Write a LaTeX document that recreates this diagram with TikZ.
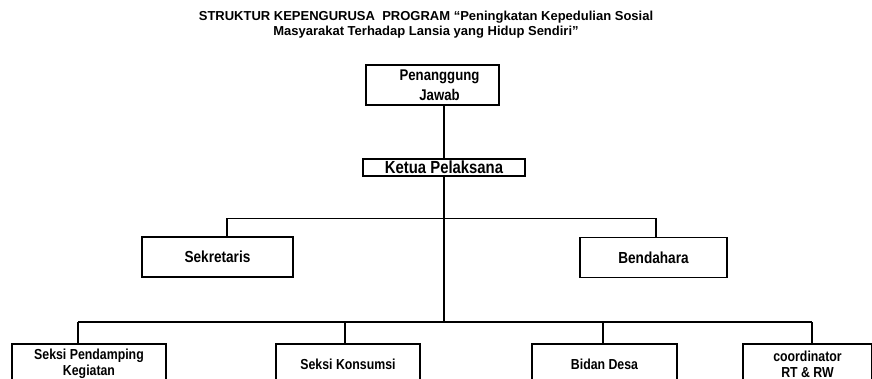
\documentclass[tikz,border=0pt]{standalone}
\usepackage{fontspec}
\setmainfont{Liberation Sans}
\newfontfamily\tebal{Liberation Sans}[FakeStretch=0.85]
\usepackage{tikz}

\tikzset{
  kotak/.style={draw, line width=1.8pt, align=center, inner sep=0pt,
    minimum height=40pt, font=\tebal\bfseries\fontsize{16}{17}\selectfont},
  kecil/.style={font=\tebal\bfseries\fontsize{14.5}{16}\selectfont},
  garis/.style={line width=1.3pt}
}

\begin{document}
\begin{tikzpicture}[x=1pt,y=-1pt]
 \fill[white] (0,0) rectangle (872,378);
 \useasboundingbox (0,0) rectangle (872,378);
 \clip (0,0) rectangle (872,378);

 \node[align=center, font=\bfseries\fontsize{13}{15}\selectfont] (judul) at (426,25)
  {STRUKTUR KEPENGURUSA\ \ PROGRAM ``Peningkatan Kepedulian Sosial\\
   Masyarakat Terhadap Lansia yang Hidup Sendiri''};

 \node[kotak, minimum width=133pt, font=\tebal\bfseries\fontsize{15.5}{20}\selectfont,
  text width=133pt] (pj) at (432.5,85) {\hspace*{14pt}Penanggung\\\hspace*{14pt}Jawab};
 \node[kotak, minimum width=162pt, minimum height=17pt,
  font=\tebal\bfseries\fontsize{17.5}{17}\selectfont] (ketua) at (444,167.5) {Ketua Pelaksana};
 \node[kotak, minimum width=151pt] (sekr) at (217.5,257) {Sekretaris};
 \node[kotak, minimum width=147pt] (bend) at (653.5,257.5) {Bendahara};

 \node[kotak, kecil, minimum width=154pt] (pend) at (89,364) {Seksi Pendamping\\Kegiatan};
 \node[kotak, kecil, minimum width=144pt] (kons) at (348,364) {Seksi Konsumsi};
 \node[kotak, kecil, minimum width=145pt] (bidan) at (604.5,364) {\raisebox{-3pt}{Bidan Desa}};
 \node[kotak, kecil, minimum width=129pt] (koord) at (807.5,364) {coordinator\\RT \& RW};

 \draw[line width=2.5pt] (ketua.north) -- (ketua.north |- pj.south);

 \coordinate (a1) at (227,218);
 \coordinate (a2) at (656,218);
 \coordinate (bawah) at (444,322);
 \draw[line width=0.8pt] (a1) -- (a2);
 \draw[garis] (a1) -- (a1 |- sekr.north);
 \draw[garis] (a2) -- (a2 |- bend.north);
 \draw[line width=1.6pt] (ketua.south) -- (bawah);

 \foreach \nm/\tx in {pend/78, kons/345, bidan/603, koord/812}
  {
    \coordinate (t\nm) at (\tx,322);
    \draw[garis] (t\nm) -- (t\nm |- \nm.north);
  }
 \draw[garis] (tpend) -- (tkoord);
\end{tikzpicture}
\end{document}
